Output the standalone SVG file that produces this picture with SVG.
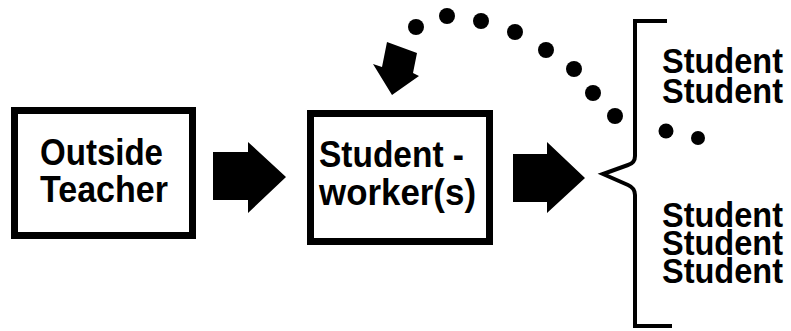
<svg xmlns="http://www.w3.org/2000/svg" width="791" height="331" viewBox="0 0 791 331">
<style>
.box{fill:#fff;stroke:#000;stroke-width:7}
.t{font-family:"Liberation Sans",Arial,sans-serif;font-weight:bold;font-size:36px;fill:#000}
.s{font-size:35px}
.arr{fill:#000}
.dot{fill:#000}
.br{fill:none;stroke:#000;stroke-width:4}
</style>
<rect width="791" height="331" fill="#fff"/>
<g id="outside-teacher">
<rect class="box" x="14.5" y="110.5" width="178" height="125"/>
<text class="t"><tspan x="40" y="165" textLength="123" lengthAdjust="spacingAndGlyphs">Outside</tspan><tspan x="40" y="202" textLength="128" lengthAdjust="spacingAndGlyphs">Teacher</tspan></text>
</g>
<g id="student-workers">
<rect class="box" x="310.5" y="113.5" width="179" height="128"/>
<text class="t"><tspan x="319" y="167" textLength="145" lengthAdjust="spacingAndGlyphs">Student -</tspan><tspan x="319" y="205" textLength="157" lengthAdjust="spacingAndGlyphs">worker(s)</tspan></text>
</g>
<g id="students">
<path class="br" d="M667,21 L635,21 L635,156 Q635,163 628,165 L603,174 L628,185 Q635,188 635,195 L635,326 L672,326"/>
<text class="t s"><tspan x="662" y="73" textLength="121" lengthAdjust="spacingAndGlyphs">Student</tspan><tspan x="662" y="103" textLength="121" lengthAdjust="spacingAndGlyphs">Student</tspan></text>
<circle class="dot" cx="666" cy="131" r="7.5"/>
<circle class="dot" cx="698" cy="138" r="7"/>
<text class="t s"><tspan x="662" y="227" textLength="121" lengthAdjust="spacingAndGlyphs">Student</tspan><tspan x="662" y="255" textLength="121" lengthAdjust="spacingAndGlyphs">Student</tspan><tspan x="662" y="283" textLength="121" lengthAdjust="spacingAndGlyphs">Student</tspan></text>
</g>
<g id="connectors">
<polygon class="arr" points="213,152 248,152 248,142 286,177 248,213 248,200 213,200"/>
<polygon class="arr" points="513,154 547,154 547,142 585,178 547,213 547,202 513,202"/>
<g id="feedback">
<circle class="dot" cx="615" cy="116" r="8"/>
<circle class="dot" cx="593" cy="93" r="8"/>
<circle class="dot" cx="574" cy="69" r="8"/>
<circle class="dot" cx="546" cy="50" r="8"/>
<circle class="dot" cx="515" cy="32" r="8"/>
<circle class="dot" cx="481" cy="21" r="8"/>
<circle class="dot" cx="447" cy="16" r="8"/>
<circle class="dot" cx="416" cy="27" r="8"/>
<polygon class="arr" points="387,42 417,53 413,73 419,76 392,95 373,64 382,67"/>
</g>
</g>
</svg>
